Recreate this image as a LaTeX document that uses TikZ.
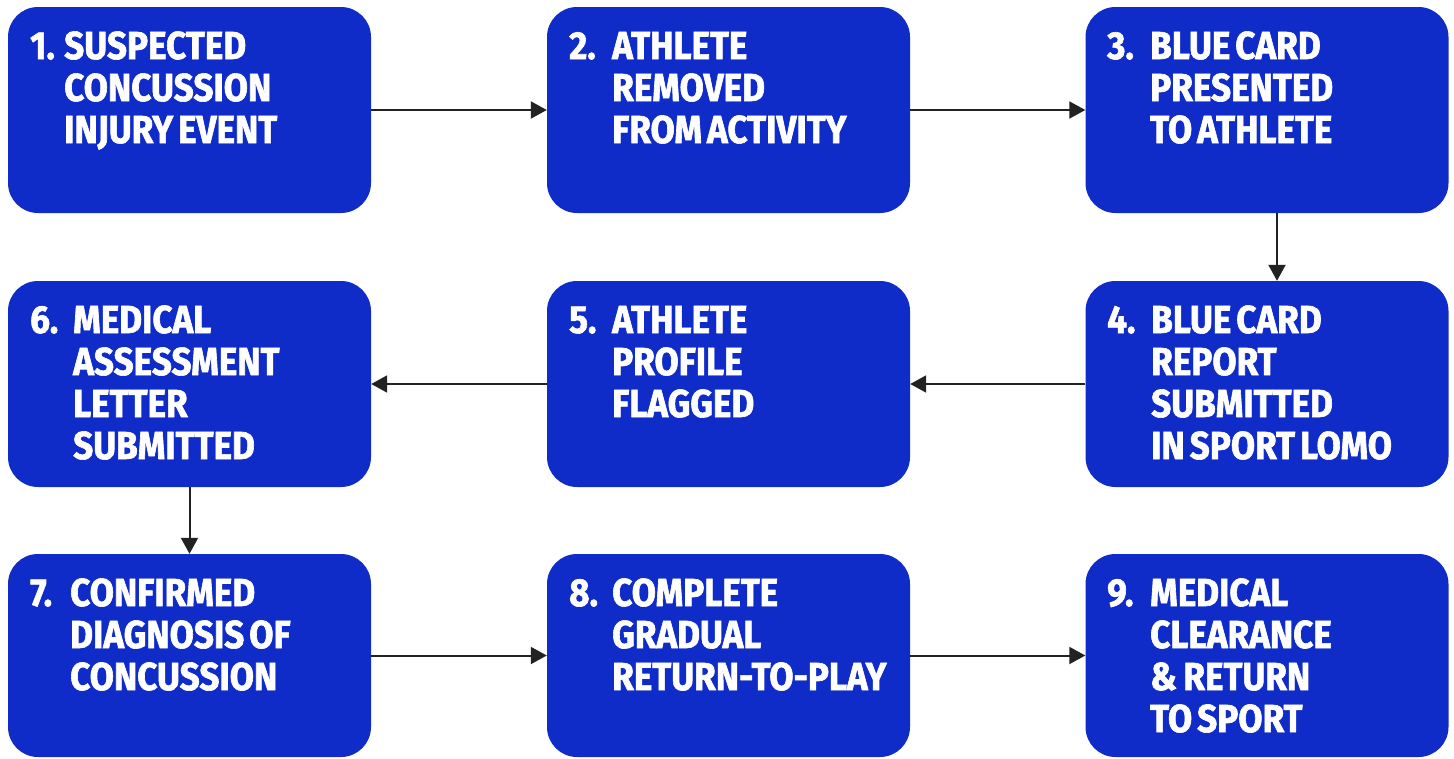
\documentclass[tikz,border=0pt]{standalone}
\usepackage{fontspec}
\newfontfamily\boxfont[FakeStretch=0.9, FakeBold=1.6, WordSpace=0.6]{Fira Sans}
\usetikzlibrary{arrows.meta}
\definecolor{boxblue}{RGB}{16,44,200}
\definecolor{arrowgray}{RGB}{34,34,34}
\newcommand{\steptext}[1]{\begin{tabular}[t]{@{}l@{}}#1\end{tabular}}
\tikzset{
  stepbox/.style={fill=boxblue, draw=none, rounded corners=30pt, minimum width=363pt, inner sep=0pt},
  numlab/.style={anchor=base west, inner sep=0pt, text=white, font=\boxfont\bfseries\fontsize{39}{42}\selectfont},
  txtlab/.style={anchor=base west, inner sep=0pt, text=white, font=\boxfont\bfseries\fontsize{39}{42}\selectfont},
  flow/.style={draw=arrowgray, line width=2pt, -{Triangle[length=16pt,width=17pt]}}
}
\begin{document}
\begin{tikzpicture}[x=1pt,y=-1pt]
\useasboundingbox (0,0) rectangle (1454,758);
% boxes
\node[stepbox, minimum height=206pt] (b1) at (189.5,110) {};
\node[stepbox, minimum height=206pt] (b2) at (728.5,110) {};
\node[stepbox, minimum height=206pt] (b3) at (1267,110) {};
\node[stepbox, minimum height=206pt] (b6) at (189.5,384) {};
\node[stepbox, minimum height=206pt] (b5) at (728.5,384) {};
\node[stepbox, minimum height=206pt] (b4) at (1267,384) {};
\node[stepbox, minimum height=203pt] (b7) at (189.5,655.5) {};
\node[stepbox, minimum height=203pt] (b8) at (728.5,655.5) {};
\node[stepbox, minimum height=203pt] (b9) at (1267,655.5) {};
% labels
\node[numlab] (n1) at (30,59) {1.};
\node[txtlab] (t1) at (64,59) {\steptext{SUSPECTED\\CONCUSSION\\INJURY EVENT}};
\node[numlab] (n2) at (569,59) {2.};
\node[txtlab] (t2) at (612,59) {\steptext{ATHLETE\\REMOVED\\FROM ACTIVITY}};
\node[numlab] (n3) at (1107,59) {3.};
\node[txtlab] (t3) at (1150,59) {\steptext{BLUE CARD\\PRESENTED\\TO ATHLETE}};
\node[numlab] (n4) at (1107,333) {4.};
\node[txtlab] (t4) at (1151,333) {\steptext{BLUE CARD\\REPORT\\SUBMITTED\\IN SPORT LOMO}};
\node[numlab] (n5) at (569,333) {5.};
\node[txtlab] (t5) at (612,333) {\steptext{ATHLETE\\PROFILE\\FLAGGED}};
\node[numlab] (n6) at (30,333) {6.};
\node[txtlab] (t6) at (73,333) {\steptext{MEDICAL\\ASSESSMENT\\LETTER\\SUBMITTED}};
\node[numlab] (n7) at (30,606) {7.};
\node[txtlab] (t7) at (70,606) {\steptext{CONFIRMED\\DIAGNOSIS OF\\CONCUSSION}};
\node[numlab] (n8) at (569,606) {8.};
\node[txtlab] (t8) at (612,606) {\steptext{COMPLETE\\GRADUAL\\RETURN-TO-PLAY}};
\node[numlab] (n9) at (1107,606) {9.};
\node[txtlab] (t9) at (1150,606) {\steptext{MEDICAL\\CLEARANCE\\\&\,RETURN\\TO SPORT}};
% connectors
\draw[flow] (b1.east) -- (b2.west);
\draw[flow] (b2.east) -- (b3.west);
\draw[flow] (b3.south -| 1277,0) -- (b4.north -| 1277,0);
\draw[flow] (b4.west) -- (b5.east);
\draw[flow] (b5.west) -- (b6.east);
\draw[flow] (b6.south) -- (b7.north);
\draw[flow] (b7.east) -- (b8.west);
\draw[flow] (b8.east) -- (b9.west);
\end{tikzpicture}
\end{document}
